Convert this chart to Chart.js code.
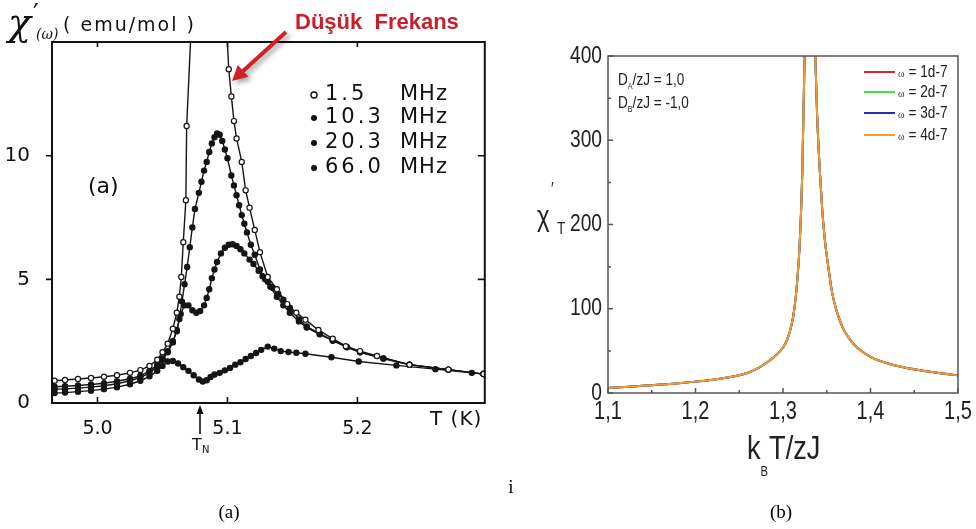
<!DOCTYPE html>
<html lang="tr">

<head>
    <meta charset="UTF-8">
    <title>Alternatif alınganlık - χ'(ω)</title>
    <script src="https://cdn.jsdelivr.net/npm/chart.js"></script>
    <style>
        body {
            margin: 0;
            background: #fff;
        }

        .sahne {
            position: relative;
            width: 976px;
            height: 529px;
            overflow: hidden;
            background: #fff;
        }

        #grafikA {
            position: absolute;
            left: 0;
            top: 0;
        }

        #grafikB {
            position: absolute;
            left: 490px;
            top: 0;
        }

        .alt-yazi {
            position: absolute;
            font-family: 'Liberation Serif', serif;
            font-size: 19px;
            color: #000;
            transform: translate(-50%, -50%);
        }
    </style>
</head>

<body>
    <div class="sahne">
        <canvas id="grafikA" width="490" height="529"></canvas>
        <canvas id="grafikB" width="486" height="529"></canvas>
        <div class="alt-yazi" style="left: 511px; top: 487px;">i</div>
        <div class="alt-yazi" style="left: 229px; top: 512px;">(a)</div>
        <div class="alt-yazi" style="left: 781px; top: 512px;">(b)</div>
    </div>

<script>
    // (a) ölçümler: T (K) ve χ'(ω) (emu/mol), dört frekans
    const tA1 = [4.967, 4.975, 4.985, 4.995, 5.005, 5.015, 5.025, 5.033, 5.040, 5.046, 5.050, 5.054, 5.058, 5.061, 5.063, 5.0645, 5.066, 5.068, 5.0686, 5.085, 5.101, 5.103, 5.105, 5.107, 5.111, 5.114, 5.117, 5.121, 5.125, 5.131, 5.138, 5.146, 5.153, 5.160, 5.170, 5.181, 5.191, 5.202, 5.215, 5.240, 5.270, 5.297];
    const chiA1 = [0.90, 0.93, 0.97, 1.01, 1.06, 1.12, 1.22, 1.33, 1.50, 1.75, 2.05, 2.40, 3.00, 3.65, 4.30, 5.10, 6.50, 8.20, 11.2, 30.0, 13.5, 12.4, 11.4, 10.7, 9.75, 8.6, 7.9, 7.0, 6.1, 5.1, 4.6, 4.0, 3.65, 3.37, 2.95, 2.6, 2.3, 2.1, 1.9, 1.55, 1.35, 1.17];

    const tA2 = [4.967, 4.975, 4.985, 4.995, 5.005, 5.015, 5.025, 5.033, 5.040, 5.046, 5.050, 5.054, 5.058, 5.061, 5.063, 5.065, 5.067, 5.069, 5.071, 5.073, 5.075, 5.078, 5.080, 5.082, 5.084, 5.086, 5.088, 5.090, 5.092, 5.094, 5.096, 5.098, 5.100, 5.103, 5.105, 5.107, 5.109, 5.111, 5.113, 5.115, 5.118, 5.121, 5.125, 5.129, 5.133, 5.138, 5.143, 5.148, 5.155, 5.161, 5.171, 5.181, 5.192, 5.202, 5.220, 5.240, 5.270, 5.297];
    const chiA2 = [0.66, 0.68, 0.71, 0.75, 0.80, 0.88, 0.98, 1.10, 1.30, 1.55, 1.80, 2.10, 2.50, 2.90, 3.40, 4.10, 4.80, 5.50, 6.30, 7.10, 7.85, 8.50, 8.95, 9.40, 9.75, 10.15, 10.50, 10.75, 10.90, 10.85, 10.60, 10.25, 9.90, 9.20, 8.80, 8.40, 8.00, 7.60, 7.25, 6.90, 6.40, 6.00, 5.40, 5.00, 4.70, 4.30, 3.95, 3.65, 3.30, 3.05, 2.78, 2.52, 2.25, 2.05, 1.80, 1.55, 1.35, 1.17];

    const tA3 = [4.967, 4.975, 4.985, 4.995, 5.005, 5.015, 5.025, 5.033, 5.040, 5.046, 5.050, 5.054, 5.058, 5.061, 5.064, 5.067, 5.070, 5.073, 5.076, 5.079, 5.082, 5.084, 5.086, 5.088, 5.090, 5.092, 5.095, 5.098, 5.101, 5.104, 5.107, 5.110, 5.113, 5.117, 5.120, 5.124, 5.127, 5.131, 5.135, 5.139, 5.143, 5.148, 5.155, 5.161, 5.171, 5.181, 5.192, 5.202, 5.220, 5.240, 5.270, 5.297];
    const chiA3 = [0.55, 0.57, 0.60, 0.64, 0.70, 0.78, 0.90, 1.03, 1.22, 1.48, 1.75, 2.05, 2.45, 2.95, 3.60, 3.95, 3.95, 3.75, 3.65, 3.72, 3.95, 4.25, 4.60, 5.05, 5.40, 5.70, 6.05, 6.28, 6.40, 6.42, 6.35, 6.22, 6.05, 5.80, 5.62, 5.35, 5.13, 4.90, 4.65, 4.42, 4.18, 3.85, 3.38, 3.10, 2.80, 2.54, 2.26, 2.06, 1.80, 1.55, 1.35, 1.17];

    const tA4 = [4.967, 4.975, 4.985, 4.995, 5.005, 5.015, 5.025, 5.033, 5.040, 5.046, 5.050, 5.054, 5.058, 5.062, 5.066, 5.070, 5.074, 5.078, 5.081, 5.084, 5.087, 5.090, 5.094, 5.098, 5.102, 5.106, 5.110, 5.114, 5.118, 5.122, 5.126, 5.131, 5.136, 5.141, 5.147, 5.153, 5.160, 5.180, 5.201, 5.230, 5.260, 5.288, 5.297];
    const chiA4 = [0.40, 0.42, 0.46, 0.50, 0.56, 0.64, 0.76, 0.90, 1.08, 1.30, 1.50, 1.68, 1.70, 1.60, 1.45, 1.30, 1.12, 0.95, 0.87, 0.92, 1.05, 1.15, 1.22, 1.32, 1.42, 1.55, 1.65, 1.78, 1.90, 2.02, 2.15, 2.28, 2.20, 2.10, 2.06, 2.03, 1.99, 1.85, 1.68, 1.52, 1.37, 1.22, 1.18];

    const frekanslar = ['1.5', '10.3', '20.3', '66.0'];
    const xTikA = [5.0, 5.1, 5.2];
    const yTikA = [0, 5, 10];

    // (b) hesaplanan χ'_T eğrisi, k_B T / zJ
    const kTzJ = [1.10, 1.12, 1.14, 1.16, 1.18, 1.20, 1.22, 1.24, 1.25, 1.26, 1.27, 1.28, 1.29, 1.30, 1.305, 1.31, 1.313, 1.316, 1.319, 1.322, 1.325, 1.33, 1.336, 1.339, 1.342, 1.345, 1.348, 1.352, 1.356, 1.36, 1.365, 1.37, 1.38, 1.39, 1.40, 1.42, 1.44, 1.46, 1.48, 1.50];
    const chiT = [6, 7.2, 8.5, 10, 11.5, 13.5, 15.8, 19, 21, 24, 28.5, 35, 43, 54, 64, 82, 100, 130, 175, 260, 420, 700, 430, 330, 265, 215, 180, 148, 120, 102, 86, 74, 59, 49.5, 43, 35, 30, 26.5, 23.5, 21];

    const omegalar = ['1d-7', '2d-7', '3d-7', '4d-7'];
    const omegaRenk = ['#e3262e', '#3fe23f', '#2a2ab8', '#f39a34'];
    const xTikB = [1.1, 1.2, 1.3, 1.4, 1.5];
    const yTikB = [0, 100, 200, 300, 400];

    const nokta = (xs, ys) => xs.map((x, i) => ({ x: x, y: ys[i] }));

    function yazi(ctx, s, x, y, font, renk, hiza) {
        ctx.font = font;
        ctx.fillStyle = renk || '#000';
        ctx.textAlign = hiza || 'left';
        ctx.textBaseline = 'middle';
        ctx.fillText(s, x, y);
        return ctx.measureText(s).width;
    }

    // dar (sıkıştırılmış) yazı: yatayda 0.8 ölçekli Liberation Sans
    const DAR = 0.8;
    function darYazi(ctx, s, x, y, boy, renk, hiza) {
        ctx.save();
        ctx.translate(x, y);
        ctx.scale(DAR, 1);
        const w = yazi(ctx, s, 0, 0, boy + "px 'Liberation Sans', sans-serif", renk || '#222', hiza);
        ctx.restore();
        return w * DAR;
    }

    // ---------- (a) ----------
    const eskiFont = "'DejaVu Sans', sans-serif";

    const cizimA = {
        id: 'cizimA',
        afterDatasetsDraw(chart) {
            const { ctx, chartArea: a, scales } = chart;
            ctx.save();

            // çerçeve
            ctx.strokeStyle = '#111';
            ctx.lineWidth = 2;
            ctx.strokeRect(a.left, a.top, a.right - a.left, a.bottom - a.top);

            // tik işaretleri
            ctx.lineWidth = 1.6;
            ctx.beginPath();
            xTikA.forEach(v => {
                const px = scales.x.getPixelForValue(v);
                ctx.moveTo(px, a.bottom); ctx.lineTo(px, a.bottom - 6);
                ctx.moveTo(px, a.top); ctx.lineTo(px, a.top + 5);
            });
            yTikA.slice(1).forEach(v => {
                const py = scales.y.getPixelForValue(v);
                ctx.moveTo(a.left - 6, py); ctx.lineTo(a.left, py);
                ctx.moveTo(a.right, py); ctx.lineTo(a.right - 7, py);
            });
            ctx.stroke();

            // eksen başlığı
            yazi(ctx, 'χ', 8, 25, "italic 38px 'DejaVu Serif', serif", '#111');
            yazi(ctx, '′', 33, 15, "26px 'DejaVu Serif', serif", '#111');
            yazi(ctx, '(ω)', 36, 35, "italic 14px 'DejaVu Serif', serif", '#111');
            ctx.letterSpacing = '2px';
            yazi(ctx, '( emu/mol )', 63, 26, '19px ' + eskiFont, '#111');
            ctx.letterSpacing = '0px';

            // (a) etiketi
            yazi(ctx, '(a)', 88, 187, '22px ' + eskiFont, '#111');

            // frekans göstergesi
            const satirY = [95, 118, 143, 168];
            frekanslar.forEach((f, i) => {
                ctx.beginPath();
                ctx.arc(314, satirY[i], 3, 0, Math.PI * 2);
                if (i === 0) {
                    ctx.fillStyle = '#fff'; ctx.fill();
                    ctx.lineWidth = 1.4; ctx.strokeStyle = '#111'; ctx.stroke();
                } else {
                    ctx.fillStyle = '#111'; ctx.fill();
                }
                ctx.letterSpacing = '3px';
                yazi(ctx, f, 325, satirY[i], '21px ' + eskiFont, '#111');
                ctx.letterSpacing = '1px';
                yazi(ctx, 'MHz', 400, satirY[i], '21px ' + eskiFont, '#111');
                ctx.letterSpacing = '0px';
            });

            // T (K)
            ctx.letterSpacing = '1px';
            yazi(ctx, 'T (K)', 430, 420, '20px ' + eskiFont, '#111');
            ctx.letterSpacing = '0px';

            // T_N oku
            const tn = 200;
            ctx.strokeStyle = '#111';
            ctx.lineWidth = 1.6;
            ctx.beginPath();
            ctx.moveTo(tn, 434); ctx.lineTo(tn, 410);
            ctx.stroke();
            ctx.beginPath();
            ctx.moveTo(tn, 405); ctx.lineTo(tn - 3.5, 414); ctx.lineTo(tn + 3.5, 414); ctx.closePath();
            ctx.fillStyle = '#111'; ctx.fill();
            yazi(ctx, 'T', 192, 446, '16px ' + eskiFont, '#111');
            yazi(ctx, 'N', 202, 450, '10px ' + eskiFont, '#111');

            // "Düşük Frekans" ve kırmızı ok
            yazi(ctx, 'Düşük  Frekans', 295, 23, "bold 22px 'Liberation Sans', sans-serif", '#c8202a');
            ctx.save();
            ctx.shadowColor = 'rgba(0,0,0,0.35)';
            ctx.shadowBlur = 5;
            ctx.shadowOffsetX = 3;
            ctx.shadowOffsetY = 3;
            ctx.strokeStyle = '#cf2228';
            ctx.fillStyle = '#cf2228';
            ctx.lineWidth = 4;
            const x0 = 286, y0 = 32, x1 = 232, y1 = 81;
            const ang = Math.atan2(y1 - y0, x1 - x0);
            const bx = x1 - 15 * Math.cos(ang), by = y1 - 15 * Math.sin(ang);
            ctx.beginPath();
            ctx.moveTo(x0, y0); ctx.lineTo(bx, by);
            ctx.stroke();
            ctx.beginPath();
            ctx.moveTo(x1, y1);
            ctx.lineTo(bx + 8 * Math.sin(ang), by - 8 * Math.cos(ang));
            ctx.lineTo(bx - 8 * Math.sin(ang), by + 8 * Math.cos(ang));
            ctx.closePath();
            ctx.fill();
            ctx.restore();

            ctx.restore();
        }
    };

    const seriA = [[tA1, chiA1], [tA2, chiA2], [tA3, chiA3], [tA4, chiA4]];

    new Chart(document.getElementById('grafikA').getContext('2d'), {
        type: 'line',
        data: {
            datasets: seriA.map((s, i) => ({
                label: frekanslar[i] + ' MHz',
                data: nokta(s[0], s[1]),
                borderColor: '#151515',
                borderWidth: 1.4,
                pointRadius: 2.6,
                pointBorderWidth: 1.2,
                pointBorderColor: '#151515',
                pointBackgroundColor: i === 0 ? '#fff' : '#151515',
                tension: 0,
                order: i
            }))
        },
        options: {
            responsive: false,
            animation: false,
            layout: { padding: { top: 42, right: 5, left: 0, bottom: 0 } },
            plugins: { legend: { display: false }, tooltip: { enabled: false } },
            scales: {
                x: {
                    type: 'linear',
                    min: 4.965,
                    max: 5.298,
                    afterBuildTicks: s => { s.ticks = xTikA.map(v => ({ value: v })); },
                    afterFit: s => { s.height = 126; },
                    grid: { display: false },
                    border: { display: false },
                    ticks: {
                        padding: 7,
                        color: '#111',
                        font: { family: eskiFont, size: 19 },
                        callback: v => v.toFixed(1)
                    }
                },
                y: {
                    min: 0,
                    max: 14.6,
                    afterBuildTicks: s => { s.ticks = yTikA.map(v => ({ value: v })); },
                    afterFit: s => { s.width = 52; },
                    grid: { display: false },
                    border: { display: false },
                    ticks: {
                        padding: 14,
                        color: '#111',
                        font: { family: eskiFont, size: 20 }
                    }
                }
            }
        },
        plugins: [cizimA]
    });

    // ---------- (b) ----------
    const cizimB = {
        id: 'cizimB',
        afterDatasetsDraw(chart) {
            const { ctx, chartArea: a, scales } = chart;
            ctx.save();

            ctx.strokeStyle = '#555';
            ctx.lineWidth = 1.5;
            ctx.strokeRect(a.left, a.top, a.right - a.left, a.bottom - a.top);

            // içe dönük büyük ve küçük tikler
            ctx.beginPath();
            xTikB.forEach((v, i) => {
                const px = scales.x.getPixelForValue(v);
                ctx.moveTo(px, a.bottom); ctx.lineTo(px, a.bottom - 5);
                if (i < xTikB.length - 1) {
                    const pm = scales.x.getPixelForValue(v + 0.05);
                    ctx.moveTo(pm, a.bottom); ctx.lineTo(pm, a.bottom - 3);
                }
            });
            yTikB.forEach((v, i) => {
                const py = scales.y.getPixelForValue(v);
                ctx.moveTo(a.left, py); ctx.lineTo(a.left + 5, py);
                if (i < yTikB.length - 1) {
                    const pm = scales.y.getPixelForValue(v + 50);
                    ctx.moveTo(a.left, pm); ctx.lineTo(a.left + 3, pm);
                }
            });
            ctx.stroke();

            // tik etiketleri, ölçeğin kendi konumlarından
            xTikB.forEach(v => {
                darYazi(ctx, v.toFixed(1).replace('.', ','), scales.x.getPixelForValue(v), a.bottom + 19, 25, '#222', 'center');
            });
            yTikB.forEach(v => {
                darYazi(ctx, String(v), a.left - 6, scales.y.getPixelForValue(v), 24, '#222', 'right');
            });

            // parametre yazısı
            const px = a.left + 10;
            let w = darYazi(ctx, 'D', px, 80, 17);
            w += darYazi(ctx, 'A', px + w, 87, 9);
            darYazi(ctx, '/zJ = 1,0', px + w, 80, 17);
            w = darYazi(ctx, 'D', px, 103, 17);
            w += darYazi(ctx, 'B', px + w, 110, 9);
            darYazi(ctx, '/zJ = -1,0', px + w, 103, 17);

            // gösterge
            const satirY = [72, 92, 113, 135];
            chart.data.datasets.forEach((d, i) => {
                ctx.strokeStyle = d.borderColor;
                ctx.lineWidth = 2;
                ctx.beginPath();
                ctx.moveTo(374, satirY[i]); ctx.lineTo(405, satirY[i]);
                ctx.stroke();
                const wo = yazi(ctx, 'ω', 408, satirY[i] + 2, "10px 'Liberation Serif', serif", '#333');
                darYazi(ctx, '= ' + omegalar[i], 412 + wo, satirY[i], 17);
            });

            // eksen başlıkları
            darYazi(ctx, 'χ', 47, 218, 30);
            darYazi(ctx, '\u2032', 61, 190, 18);
            darYazi(ctx, 'T', 67, 229, 17);

            w = darYazi(ctx, 'k', 257, 450, 34);
            w += darYazi(ctx, 'B', 257 + w, 472, 14);
            darYazi(ctx, 'T/zJ', 257 + w + 1, 450, 34);

            ctx.restore();
        }
    };

    new Chart(document.getElementById('grafikB').getContext('2d'), {
        type: 'line',
        data: {
            datasets: omegalar.map((o, i) => ({
                label: 'ω = ' + o,
                data: nokta(kTzJ, chiT),
                borderColor: omegaRenk[i],
                borderWidth: 2,
                pointRadius: 0,
                cubicInterpolationMode: 'monotone',
                order: omegalar.length - i
            }))
        },
        options: {
            responsive: false,
            animation: false,
            layout: { padding: { top: 56, right: 18, left: 0, bottom: 0 } },
            plugins: { legend: { display: false }, tooltip: { enabled: false } },
            scales: {
                x: {
                    type: 'linear',
                    min: 1.1,
                    max: 1.5,
                    afterBuildTicks: s => { s.ticks = xTikB.map(v => ({ value: v })); },
                    afterFit: s => { s.height = 136; },
                    grid: { display: false },
                    border: { display: false },
                    ticks: { display: false }
                },
                y: {
                    min: 0,
                    max: 400,
                    afterBuildTicks: s => { s.ticks = yTikB.map(v => ({ value: v })); },
                    afterFit: s => { s.width = 118; },
                    grid: { display: false },
                    border: { display: false },
                    ticks: { display: false }
                }
            }
        },
        plugins: [cizimB]
    });
</script>
</body>

</html>
